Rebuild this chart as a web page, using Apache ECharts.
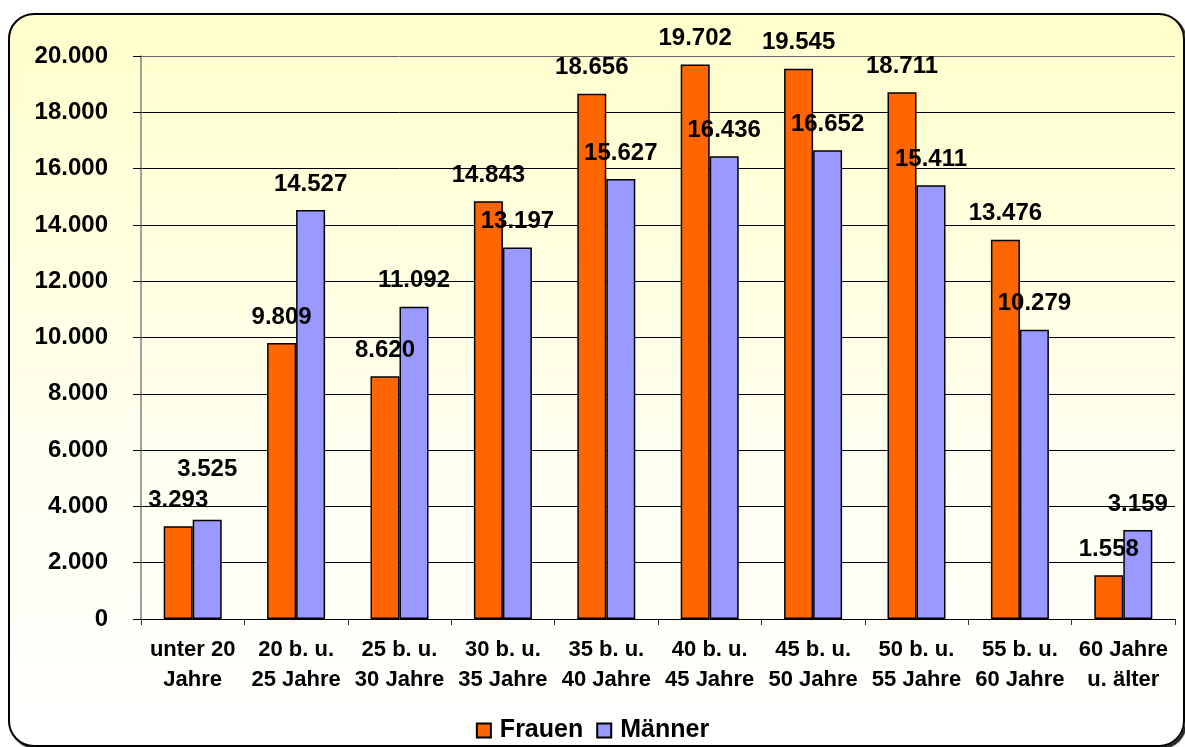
<html lang="de">
<head>
    <meta charset="UTF-8">
    <title>Altersgruppen</title>
    <style>
        html, body { margin: 0; padding: 0; background: #ffffff; }
        #frame {
            position: absolute; left: 8px; top: 13px; width: 1173px; height: 730px;
            border: 2px solid #000; border-radius: 26px;
            background: linear-gradient(to bottom, #ffffcc 0%, #fffff0 60%, #ffffff 100%);
            box-shadow: 2px 2px 1px #222;
        }
        #container { position: absolute; left: 0; top: 0; width: 1185px; height: 747px; }
    </style>
</head>
<body>
    <div id="frame"></div>
    <div id="container"></div>
</body>
<script src="https://cdn.jsdelivr.net/npm/echarts@6/dist/echarts.min.js"></script>
<script>
    // Kategorien und Werte
    var categories = ['unter 20\nJahre', '20 b. u.\n25 Jahre', '25 b. u.\n30 Jahre', '30 b. u.\n35 Jahre',
        '35 b. u.\n40 Jahre', '40 b. u.\n45 Jahre', '45 b. u.\n50 Jahre', '50 b. u.\n55 Jahre',
        '55 b. u.\n60 Jahre', '60 Jahre\nu. älter'];
    var frauen = [3293, 9809, 8620, 14843, 18656, 19702, 19545, 18711, 13476, 1558];
    var maenner = [3525, 14527, 11092, 13197, 15627, 16436, 16652, 15411, 10279, 3159];
    var seriesNames = ['Frauen', 'Männer'];

    function fmt(v) {
        var s = String(Math.round(v));
        return s.replace(/\B(?=(\d{3})+(?!\d))/g, '.');
    }

    var font = 'Arial, "Liberation Sans", sans-serif';
    var chart = echarts.init(document.getElementById('container'));

    // Männer-Wert in der ersten Gruppe steht höher
    var maennerData = maenner.map(function (v, i) {
        if (i == 0) {
            return { value: v, label: { offset: [0, -24] } };
        }
        return v;
    });

    var labelStyle = {
        show: true,
        position: 'top',
        distance: 14,
        color: '#000',
        fontFamily: font,
        fontWeight: 'bold',
        fontSize: 24,
        formatter: function (p) { return fmt(p.value); }
    };

    var gridColors = [];
    for (var k = 0; k < 10; k++) gridColors.push('#000');
    gridColors.push('#666');

    var option = {
        backgroundColor: 'transparent',
        animation: false,
        textStyle: { fontFamily: font },
        grid: { left: 141, right: 10, top: 56, bottom: 128 },
        legend: {
            top: 713,
            left: 'center',
            icon: 'rect',
            itemWidth: 14,
            itemHeight: 14,
            itemGap: 13,
            textStyle: { fontSize: 25, fontWeight: 'bold', color: '#000', fontFamily: font, padding: [0, 0, 0, 4] },
            data: seriesNames
        },
        xAxis: {
            type: 'category',
            data: categories,
            axisLine: { lineStyle: { color: '#000', width: 1 } },
            axisTick: { show: true, length: 6, lineStyle: { color: '#333' } },
            axisLabel: {
                color: '#000', fontSize: 22, fontWeight: 'bold', fontFamily: font,
                lineHeight: 30, margin: 16, interval: 0
            }
        },
        yAxis: {
            type: 'value',
            min: 0,
            max: 20000,
            interval: 2000,
            axisLine: { show: true, lineStyle: { color: '#808080', width: 1.5 } },
            axisTick: { show: true, length: 8, lineStyle: { color: '#000' } },
            splitLine: { show: true, lineStyle: { color: gridColors, width: 1 } },
            axisLabel: {
                color: '#000', fontSize: 24, fontWeight: 'bold', fontFamily: font, margin: 33,
                formatter: function (v) { return fmt(v); }
            }
        },
        series: [{
            name: seriesNames[0],
            type: 'bar',
            data: frauen,
            barWidth: 29,
            barGap: '0%',
            itemStyle: { color: '#ff6600', borderColor: '#000', borderWidth: 1.5 },
            label: labelStyle
        }, {
            name: seriesNames[1],
            type: 'bar',
            data: maennerData,
            barWidth: 29,
            barGap: '0%',
            itemStyle: { color: '#9999ff', borderColor: '#000', borderWidth: 1.5 },
            label: labelStyle
        }]
    };
    chart.setOption(option);
</script>
</html>
